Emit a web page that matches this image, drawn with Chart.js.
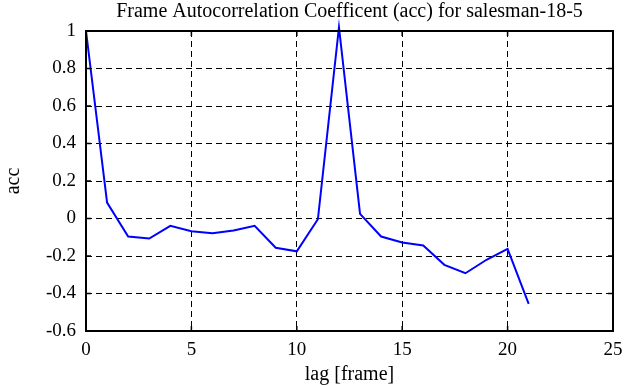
<!DOCTYPE html>
<html>
<head>
<meta charset="utf-8">
<script src="https://cdn.jsdelivr.net/npm/chart.js@4/dist/chart.umd.min.js"></script>
<style>
  html, body { margin: 0; padding: 0; background: #fff; }
  canvas { display: block; }
</style>
</head>
<body>
<canvas id="chartAcc" width="641" height="387"></canvas>
<script>
// Datos
const lags = [0, 1, 2, 3, 4, 5, 6, 7, 8, 9, 10, 11, 12, 13, 14, 15, 16, 17, 18, 19, 20, 21];
const accValues = [1.0, 0.085, -0.096, -0.107, -0.039, -0.068, -0.078, -0.064, -0.039, -0.156, -0.175,
  -0.004, 1.02, 0.025, -0.096, -0.128, -0.144, -0.247, -0.292, -0.22, -0.162, -0.455];
const xTicks = [0, 5, 10, 15, 20, 25];
const yTicks = [-0.6, -0.4, -0.2, 0, 0.2, 0.4, 0.6, 0.8, 1];
const yTickLabels = ["-0.6", "-0.4", "-0.2", "0", "0.2", "0.4", "0.6", "0.8", "1"];

const serif = "'Liberation Serif', 'DejaVu Serif', serif";
const ctx = document.getElementById("chartAcc").getContext("2d");

// Marco y marcas hacia dentro, como en matlab
const framePlugin = {
  id: "framePlugin",
  afterDraw(chart) {
    const { ctx, chartArea: a, scales } = chart;
    ctx.save();
    ctx.strokeStyle = "#000";
    ctx.lineWidth = 2;
    ctx.strokeRect(a.left, a.top, a.right - a.left, a.bottom - a.top);
    ctx.lineWidth = 1.5;
    const len = 5;
    for (const v of xTicks) {
      const x = scales.x.getPixelForValue(v);
      ctx.beginPath();
      ctx.moveTo(x, a.bottom); ctx.lineTo(x, a.bottom - len);
      ctx.moveTo(x, a.top); ctx.lineTo(x, a.top + len);
      ctx.stroke();
    }
    for (const v of yTicks) {
      const y = scales.y.getPixelForValue(v);
      ctx.beginPath();
      ctx.moveTo(a.left, y); ctx.lineTo(a.left + len, y);
      ctx.moveTo(a.right, y); ctx.lineTo(a.right - len, y);
      ctx.stroke();
    }
    ctx.restore();
  },
};

const accChart = new Chart(ctx, {
  type: "line",
  data: {
    labels: lags,
    datasets: [
      {
        data: lags.map((x, i) => ({ x: x, y: accValues[i] })),
        borderColor: "#0000ff",
        borderWidth: 2,
        pointRadius: 0,
        tension: 0,
        clip: false,
      },
    ],
  },
  options: {
    responsive: false,
    animation: false,
    layout: { padding: { left: 0, right: 28, top: 0, bottom: 0 } },
    plugins: {
      legend: { display: false },
      tooltip: { enabled: false },
      title: {
        display: true,
        fullSize: false,
        text: "Frame Autocorrelation Coefficent (acc) for salesman-18-5",
        color: "#000",
        font: { family: serif, size: 20, weight: "normal" },
        padding: { top: 0, bottom: 7 },
      },
    },
    scales: {
      x: {
        type: "linear",
        min: 0,
        max: 25,
        afterBuildTicks: (scale) => { scale.ticks = xTicks.map((v) => ({ value: v })); },
        afterFit: (scale) => { scale.height = 56; },
        ticks: {
          color: "#000",
          font: { family: serif, size: 19 },
          padding: 8,
          maxRotation: 0,
        },
        grid: { color: "#000", lineWidth: 1, drawTicks: false },
        border: { display: false, dash: [6, 4] },
        title: {
          display: true,
          text: "lag [frame]",
          color: "#000",
          font: { family: serif, size: 20 },
          padding: { top: 0, bottom: 0 },
        },
      },
      y: {
        type: "linear",
        min: -0.6,
        max: 1,
        afterBuildTicks: (scale) => { scale.ticks = yTicks.map((v) => ({ value: v })); },
        afterFit: (scale) => { scale.width = 86; },
        ticks: {
          color: "#000",
          font: { family: serif, size: 19 },
          padding: 10,
          callback: (value, index) => yTickLabels[index],
        },
        grid: { color: "#000", lineWidth: 1, drawTicks: false },
        border: { display: false, dash: [6, 4] },
        title: {
          display: true,
          text: "acc",
          color: "#000",
          font: { family: serif, size: 20 },
          padding: { top: 1.5, bottom: 1.5 },
        },
      },
    },
  },
  plugins: [framePlugin],
});
</script>
</body>
</html>
